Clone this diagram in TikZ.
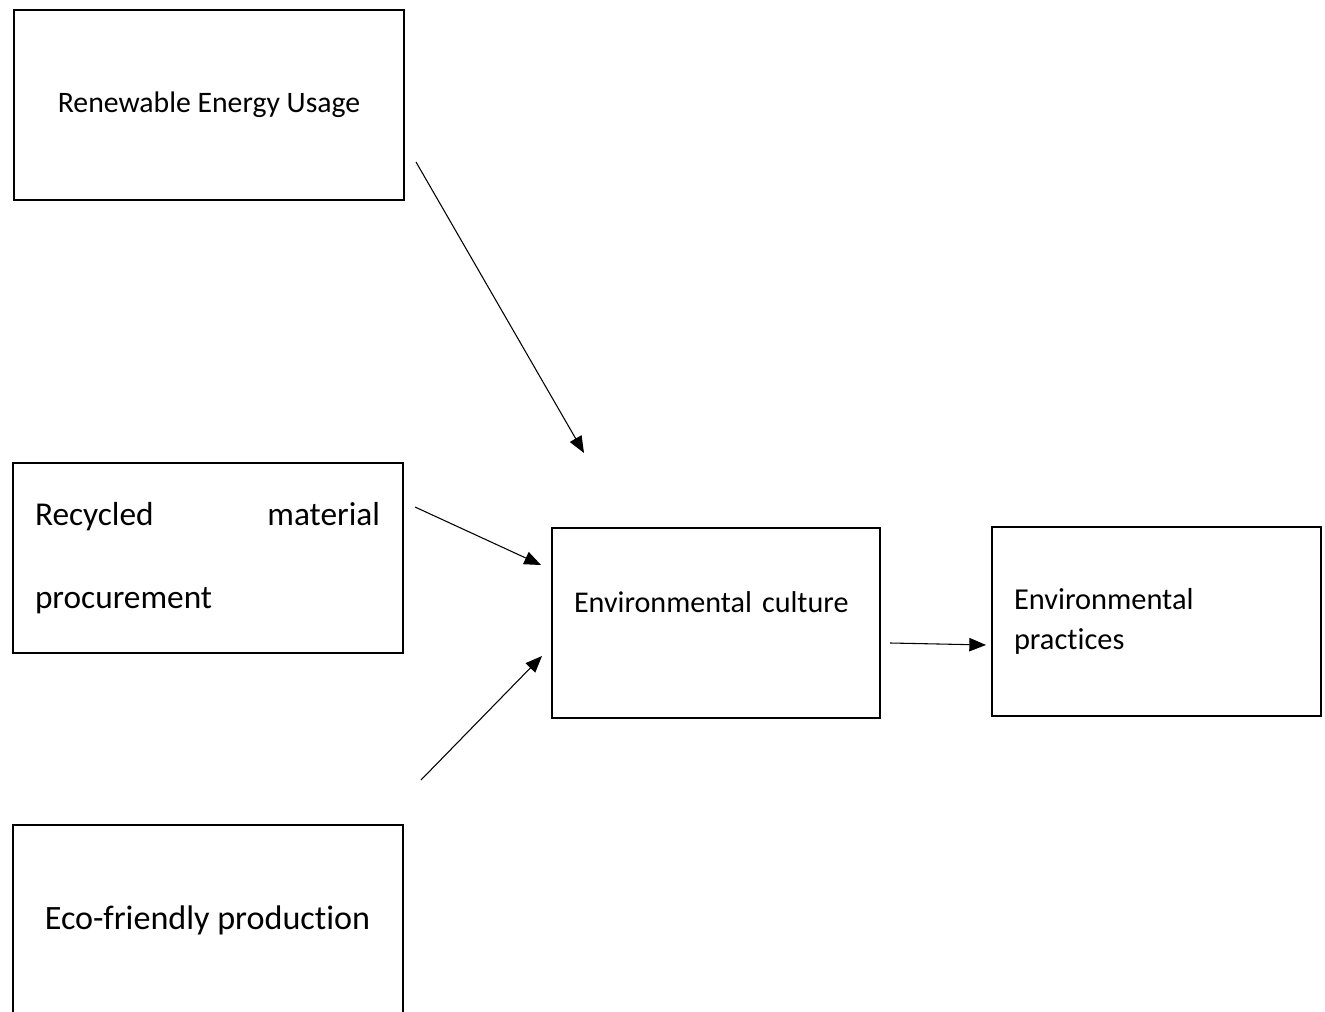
\documentclass[tikz,border=0pt]{standalone}
\usepackage{fontspec}
\setmainfont{Carlito}[Ligatures={NoCommon}]
\usetikzlibrary{arrows.meta}

\begin{document}
\begin{tikzpicture}[x=.75pt,y=-.75pt,
  box/.style={draw,line width=1.5pt,minimum width=292.5pt,minimum height=142.5pt,inner sep=0pt},
  lnk/.style={-{Triangle[length=12.5pt,width=10pt]},line width=.8pt}]
\useasboundingbox(0,0)rectangle(1325,1012);
% drivers
\node[box](ren)at(209,105){\fontsize{22.3}{26}\selectfont Renewable Energy Usage};
\node[box,font=\fontsize{25}{62}\selectfont,align=left,text width=258.75pt](rec)at(207.5,558){\hbox to 258.75pt{Recycled\hfill material}\\procurement};
\node[box](eco)at(207.5,920){\fontsize{25.6}{30}\selectfont Eco-friendly production};
% mediator and outcome
\node[box,minimum width=246pt,minimum height=0pt,inner xsep=16.5pt,text width=213pt,align=left,text height=63pt,text depth=79.5pt,font=\fontsize{22.6}{26}\selectfont](cult)at(716,623){Environmental culture};
\node[box,minimum width=246.75pt,minimum height=141.75pt,inner xsep=16.5pt,text width=213.75pt,align=left,font=\fontsize{22.8}{30}\selectfont](prac)at(1156.5,621.5){Environmental\\practices};
% free arrow ends
\coordinate(a1)at(416,162);\coordinate(b1)at(584,453);
\coordinate(a2)at(415,507);\coordinate(b2)at(541,565);
\coordinate(a3)at(421,780);\coordinate(b3)at(542,656);
\coordinate(a4)at(890,643);\coordinate(b4)at(986,645);
\draw[lnk](a1)--(b1);\draw[lnk](a2)--(b2);\draw[lnk](a3)--(b3);\draw[lnk](a4)--(b4);
\end{tikzpicture}
\end{document}
